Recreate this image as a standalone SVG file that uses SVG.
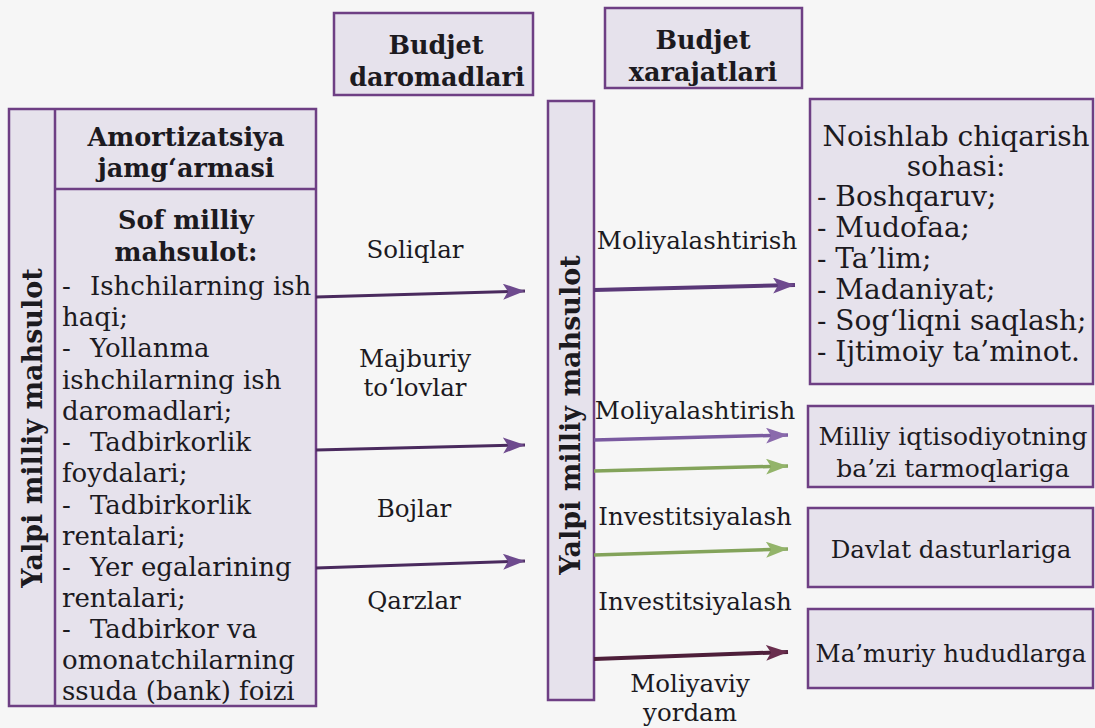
<svg xmlns="http://www.w3.org/2000/svg" width="1095" height="728" viewBox="0 0 1095 728">
<style>
.box{fill:#e6e2ec;stroke:#6e3f84;stroke-width:2.5}
.t{font-family:"DejaVu Serif","Liberation Serif",serif;font-size:26px;fill:#1c1a1f}
.b{font-weight:bold;font-size:25.5px}
.v{font-weight:bold;font-size:27px}
.r{font-size:28px}
.s{font-size:25px}
.s2{font-size:24.5px}
.c{text-anchor:middle}
.lab{font-family:"DejaVu Serif","Liberation Serif",serif;font-size:24.5px;fill:#1c1a1f;text-anchor:middle}
</style>
<defs>
<marker id="hP" markerUnits="userSpaceOnUse" markerWidth="24" markerHeight="16" refX="22" refY="8" orient="auto"><path d="M0,0 L22,8 L0,16 L5,8 Z" fill="#6e4a8e"/></marker>
<marker id="hL" markerUnits="userSpaceOnUse" markerWidth="24" markerHeight="16" refX="22" refY="8" orient="auto"><path d="M0,0 L22,8 L0,16 L5,8 Z" fill="#8a6aac"/></marker>
<marker id="hG" markerUnits="userSpaceOnUse" markerWidth="24" markerHeight="16" refX="22" refY="8" orient="auto"><path d="M0,0 L22,8 L0,16 L5,8 Z" fill="#93b46a"/></marker>
<marker id="hM" markerUnits="userSpaceOnUse" markerWidth="24" markerHeight="16" refX="22" refY="8" orient="auto"><path d="M0,0 L22,8 L0,16 L5,8 Z" fill="#6a2e4e"/></marker>
</defs>
<rect width="1095" height="728" fill="#f6f6f6"/>

<g id="budjet-daromadlari">
<rect class="box" x="334" y="13" width="199" height="82"/>
<text class="t b c" x="436" y="54">Budjet</text>
<text class="t b c" x="437" y="86">daromadlari</text>
</g>
<g id="budjet-xarajatlari">
<rect class="box" x="605" y="8" width="197" height="80"/>
<text class="t b c" x="703" y="49">Budjet</text>
<text class="t b c" x="703" y="81">xarajatlari</text>
</g>

<g id="left-block">
<rect class="box" x="9" y="109" width="307" height="597"/>
<line x1="55" y1="109" x2="55" y2="706" stroke="#6e3f84" stroke-width="2.5"/>
<line x1="55" y1="189" x2="316" y2="189" stroke="#6e3f84" stroke-width="2.5"/>
<text class="t v c" transform="translate(42,428) rotate(-90)">Yalpi milliy mahsulot</text>
</g>
<g id="amortizatsiya">
<text class="t b c" x="186" y="146">Amortizatsiya</text>
<text class="t b c" x="186" y="177">jamg‘armasi</text>
</g>
<g id="sof-milliy">
<text class="t b c" x="186" y="229">Sof milliy</text>
<text class="t b c" x="186" y="261">mahsulot:</text>
<text class="t" x="62" y="295">-<tspan x="90">Ishchilarning ish</tspan></text>
<text class="t" x="62" y="326">haqi;</text>
<text class="t" x="62" y="357">-<tspan x="90">Yollanma</tspan></text>
<text class="t" x="62" y="389">ishchilarning ish</text>
<text class="t" x="62" y="420">daromadlari;</text>
<text class="t" x="62" y="451">-<tspan x="90">Tadbirkorlik</tspan></text>
<text class="t" x="62" y="482">foydalari;</text>
<text class="t" x="62" y="514">-<tspan x="90">Tadbirkorlik</tspan></text>
<text class="t" x="62" y="545">rentalari;</text>
<text class="t" x="62" y="576">-<tspan x="90">Yer egalarining</tspan></text>
<text class="t" x="62" y="607">rentalari;</text>
<text class="t" x="62" y="638">-<tspan x="90">Tadbirkor va</tspan></text>
<text class="t" x="62" y="669">omonatchilarning</text>
<text class="t" x="62" y="700">ssuda (bank) foizi</text>
</g>

<g id="yalpi-middle">
<rect class="box" x="548" y="101" width="46" height="599"/>
<text class="t v c" transform="translate(580,415) rotate(-90)">Yalpi milliy mahsulot</text>
</g>

<g id="noishlab">
<rect class="box" x="810" y="99" width="283" height="285"/>
<text class="t r c" x="956" y="146">Noishlab chiqarish</text>
<text class="t r c" x="956" y="176">sohasi:</text>
<text class="t r" x="817" y="206">- Boshqaruv;</text>
<text class="t r" x="817" y="237">- Mudofaa;</text>
<text class="t r" x="817" y="268">- Ta’lim;</text>
<text class="t r" x="817" y="299">- Madaniyat;</text>
<text class="t r" x="817" y="330">- Sog‘liqni saqlash;</text>
<text class="t r" x="817" y="361">- Ijtimoiy ta’minot.</text>
</g>
<g id="milliy-iqtisodiyot">
<rect class="box" x="808" y="406" width="285" height="81"/>
<text class="t s c" x="953" y="445">Milliy iqtisodiyotning</text>
<text class="t s c" x="953" y="477">ba’zi tarmoqlariga</text>
</g>
<g id="davlat-dasturlariga">
<rect class="box" x="808" y="508" width="285" height="79"/>
<text class="t s2 c" x="951" y="558">Davlat dasturlariga</text>
</g>
<g id="mamuriy-hududlarga">
<rect class="box" x="808" y="609" width="285" height="79"/>
<text class="t s2 c" x="951" y="662">Ma’muriy hududlarga</text>
</g>

<g id="connectors">
<line x1="316" y1="297" x2="525" y2="291" stroke="#4a2a5e" stroke-width="3" marker-end="url(#hP)"/>
<line x1="316" y1="450" x2="525" y2="445" stroke="#4a2a5e" stroke-width="3" marker-end="url(#hP)"/>
<line x1="316" y1="568" x2="525" y2="561" stroke="#4a2a5e" stroke-width="3" marker-end="url(#hP)"/>
<line x1="594" y1="290" x2="795" y2="285" stroke="#5a3878" stroke-width="4" marker-end="url(#hP)"/>
<line x1="594" y1="440" x2="788" y2="435" stroke="#7a5aa0" stroke-width="3.5" marker-end="url(#hL)"/>
<line x1="594" y1="471" x2="788" y2="466" stroke="#83a35a" stroke-width="3.5" marker-end="url(#hG)"/>
<line x1="594" y1="555" x2="788" y2="549" stroke="#83a35a" stroke-width="3.5" marker-end="url(#hG)"/>
<line x1="594" y1="659" x2="788" y2="652" stroke="#4e1f3a" stroke-width="4" marker-end="url(#hM)"/>
<text class="lab" x="415" y="258">Soliqlar</text>
<text class="lab" x="415" y="367">Majburiy</text>
<text class="lab" x="415" y="396">to‘lovlar</text>
<text class="lab" x="414" y="517">Bojlar</text>
<text class="lab" x="414" y="609">Qarzlar</text>
<text class="lab" x="697" y="249">Moliyalashtirish</text>
<text class="lab" x="695" y="419">Moliyalashtirish</text>
<text class="lab" x="695" y="525">Investitsiyalash</text>
<text class="lab" x="695" y="610">Investitsiyalash</text>
<text class="lab" x="690" y="692">Moliyaviy</text>
<text class="lab" x="690" y="721">yordam</text>
</g>
</svg>
